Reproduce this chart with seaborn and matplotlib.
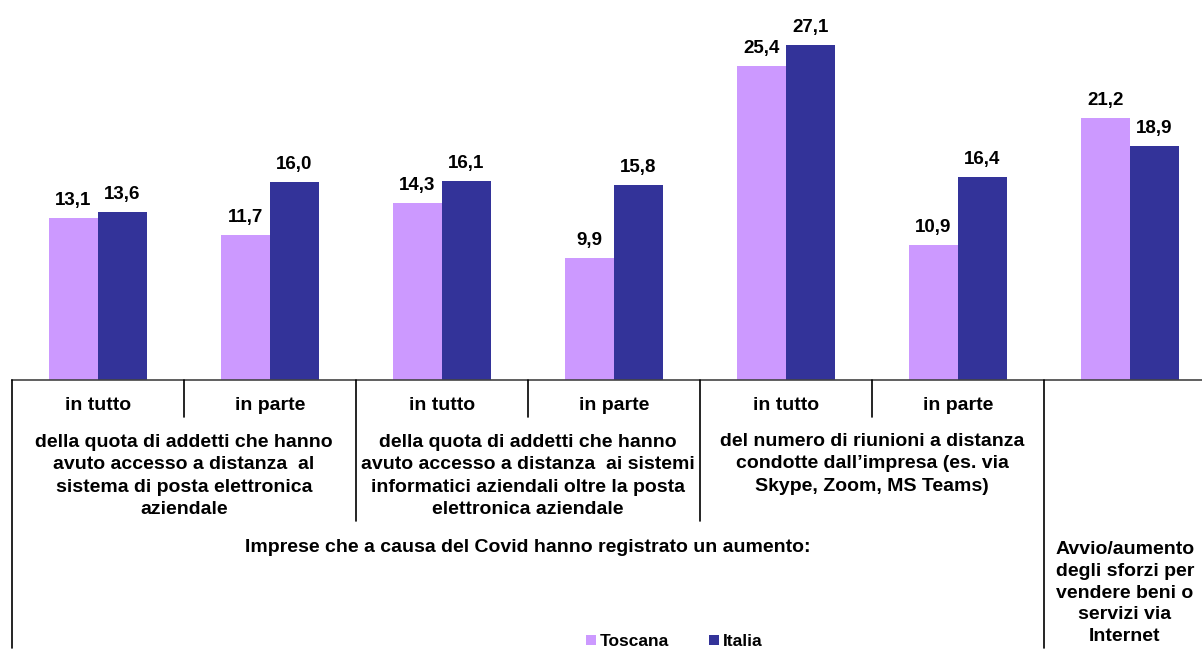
import matplotlib
matplotlib.use("Agg")
import matplotlib.pyplot as plt
import matplotlib.transforms as mtransforms
from matplotlib.lines import Line2D
import seaborn as sns
import pandas as pd

# ---- data ----
categories = ["c1", "c2", "c3", "c4", "c5", "c6", "c7"]
tick_labels = ["in tutto", "in parte", "in tutto", "in parte", "in tutto", "in parte", ""]
series = ["Toscana", "Italia"]
toscana = [13.1, 11.7, 14.3, 9.9, 25.4, 10.9, 21.2]
italia = [13.6, 16.0, 16.1, 15.8, 27.1, 16.4, 18.9]
colors = ["#CC99FF", "#333399"]

group_labels = [
    "della quota di addetti che hanno\navuto accesso a distanza  al\nsistema di posta elettronica\naziendale",
    "della quota di addetti che hanno\navuto accesso a distanza  ai sistemi\ninformatici aziendali oltre la posta\nelettronica aziendale",
    "del numero di riunioni a distanza\ncondotte dall\u2019impresa (es. via\nSkype, Zoom, MS Teams)",
]
main_label = "Imprese che a causa del Covid hanno registrato un aumento:"
last_label = "Avvio/aumento\ndegli sforzi per\nvendere beni o\nservizi via\nInternet"

df = pd.DataFrame({
    "cat": categories * 2,
    "val": toscana + italia,
    "serie": [series[0]] * len(categories) + [series[1]] * len(categories),
})

sns.set_theme(style="white")
plt.rcParams["font.family"] = ["Liberation Sans", "DejaVu Sans"]
plt.rcParams["font.weight"] = "bold"
plt.rcParams["text.color"] = "black"

W, H = 1202, 651
fig = plt.figure(figsize=(W / 100, H / 100), dpi=100)
base_px = 380
ax = fig.add_axes([12 / W, (H - base_px) / H, 1190 / W, base_px / H])

sns.barplot(data=df, x="cat", y="val", hue="serie", order=categories,
            hue_order=series, palette=colors, width=0.57, dodge=True,
            saturation=1, legend=False, ax=ax, linewidth=0)

ax.set_xlim(-0.5, -0.5 + 1190 / 172)
ax.set_ylim(0, base_px / 12.37)
for s in ["top", "right", "left"]:
    ax.spines[s].set_visible(False)
ax.spines["bottom"].set_color("#444444")
ax.spines["bottom"].set_linewidth(1.2)
ax.set_xticks([])
ax.set_yticks([])
ax.set_xlabel("")
ax.set_ylabel("")

for cont in ax.containers:
    labs = [f"{b.get_height():.1f}".replace(".", ",") for b in cont]
    ax.bar_label(cont, labels=labs, padding=6.5, fontsize=13.5,
                 fontweight="bold", color="black")

tr = mtransforms.blended_transform_factory(ax.transData, fig.transFigure)
def fy(py):
    return 1 - py / H

# separator lines
seps = [(-0.5, 648), (0.5, 417), (1.5, 521), (2.5, 417), (3.5, 521), (4.5, 417), (5.5, 648)]
for x, yb in seps:
    fig.add_artist(Line2D([x, x], [fy(base_px), fy(yb)], transform=tr,
                          color="black", lw=1.2))

fs = 14
for i, lab in enumerate(tick_labels):
    if lab:
        fig.text(i, fy(405), lab, transform=tr, ha="center", va="center",
                 fontsize=fs, fontweight="bold", color="black")

centers = [(0.5, 476), (2.5, 476), (4.5, 464)]
for (cx, cy), lab in zip(centers, group_labels):
    fig.text(cx, fy(cy), lab, transform=tr, ha="center", va="center",
             fontsize=fs, fontweight="bold", linespacing=1.42, color="black")

fig.text(2.5, fy(548), main_label, transform=tr, ha="center", va="center",
         fontsize=fs, fontweight="bold", color="black")
fig.text(5.97, fy(593), last_label, transform=tr, ha="center", va="center",
         fontsize=fs, fontweight="bold", linespacing=1.36, color="black")

handles = [Line2D([], [], marker="s", linestyle="", markersize=6.5,
                  markerfacecolor=c, markeredgewidth=0) for c in colors]
fig.legend(handles, series, loc="center", bbox_to_anchor=(673 / W, fy(641)),
           ncol=2, frameon=False, handletextpad=0.1,
           columnspacing=2.2, handlelength=0.8, borderpad=0,
           prop={"weight": "bold", "size": 12.5}, labelcolor="black")

fig.savefig("out.png", dpi=100)
